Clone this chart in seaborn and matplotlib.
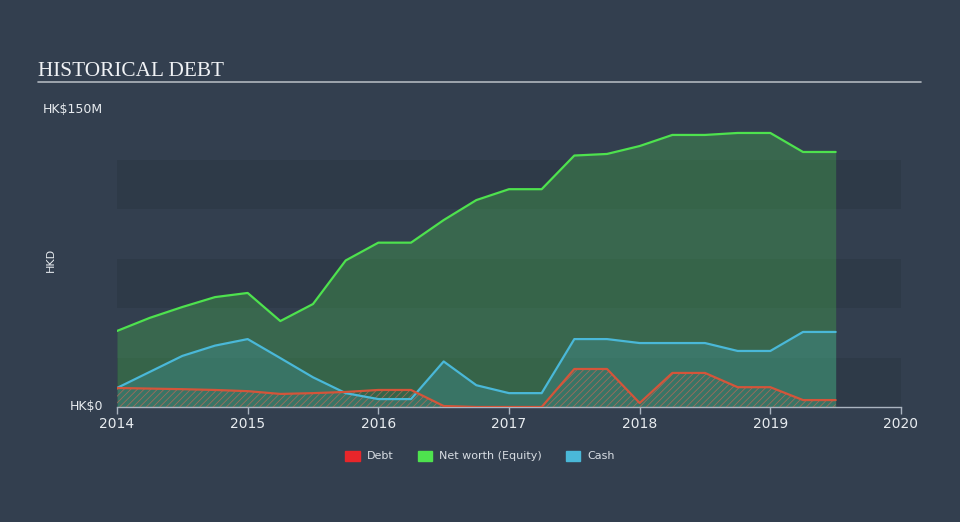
import numpy as np
import pandas as pd
import matplotlib
matplotlib.use("Agg")
import matplotlib.pyplot as plt
import matplotlib.patches as mpatches
import seaborn as sns

# ---- data (HK$ millions), quarterly ----
dates = [2014.0, 2014.25, 2014.5, 2014.75, 2015.0, 2015.25, 2015.5, 2015.75,
         2016.0, 2016.25, 2016.5, 2016.75, 2017.0, 2017.25, 2017.5, 2017.75,
         2018.0, 2018.25, 2018.5, 2018.75, 2019.0, 2019.25, 2019.5]
net_worth = [38.4, 45.0, 50.5, 55.5, 57.6, 43.4, 52.0, 74.0,
             83.0, 83.0, 94.4, 104.5, 110.0, 110.0, 127.0, 127.8,
             131.8, 137.4, 137.4, 138.4, 138.4, 128.8, 128.8]
cash = [9.6, 17.7, 25.8, 31.0, 34.3, 24.7, 15.0, 7.0,
        4.0, 4.0, 23.0, 11.0, 7.0, 7.0, 34.3, 34.3,
        32.3, 32.3, 32.3, 28.3, 28.3, 37.9, 37.9]
debt = [9.6, 9.3, 9.0, 8.6, 8.0, 6.6, 7.0, 7.6,
        8.6, 8.6, 0.5, 0.0, 0.0, 0.0, 19.2, 19.2,
        2.0, 17.2, 17.2, 10.0, 10.0, 3.5, 3.5]
x_ticks = [2014, 2015, 2016, 2017, 2018, 2019, 2020]
y_ticks = [0, 150]
y_tick_labels = ["HK$0", "HK$150M"]
legend_labels = ["Debt", "Net worth (Equity)", "Cash"]

BG = "#333f4f"
BAND = "#2e3a48"
C_DEBT_LEG = "#e8262a"
C_NW = "#4ee24e"
C_CASH = "#4ab8d8"
C_DEBT_LINE = "#d4553a"

sns.set_theme(style="dark")
plt.rcParams["font.family"] = ["DejaVu Sans"]
plt.rcParams["hatch.linewidth"] = 0.6

fig = plt.figure(figsize=(9.6, 5.22), dpi=100, facecolor=BG)
ax = fig.add_axes([117/960, 1-407/522, (901-117)/960, (407-110)/522])
ax.set_facecolor(BG)

# background bands
for lo in [0, 50, 100]:
    ax.axhspan(lo, lo + 25, color=BAND, zorder=0, lw=0)

df = pd.DataFrame({"date": dates, "Net worth": net_worth, "Cash": cash, "Debt": debt})

ax.fill_between(df["date"], 0, df["Net worth"], color=C_NW, alpha=0.25, lw=0, zorder=1)
ax.fill_between(df["date"], 0, df["Cash"], color=C_CASH, alpha=0.2, lw=0, zorder=2)
ax.fill_between(df["date"], 0, df["Debt"], facecolor="none", edgecolor="#c86a58",
                hatch="/////", lw=0, zorder=3, alpha=0.7)

sns.lineplot(data=df, x="date", y="Net worth", ax=ax, color=C_NW, lw=1.6, zorder=5)
sns.lineplot(data=df, x="date", y="Cash", ax=ax, color=C_CASH, lw=1.6, zorder=5)
sns.lineplot(data=df, x="date", y="Debt", ax=ax, color=C_DEBT_LINE, lw=1.6, zorder=5)

ax.set_xlim(2014, 2020)
ax.set_ylim(0, 150)
ax.set_xticks(x_ticks)
ax.set_xticklabels([str(t) for t in x_ticks], color="#e8ecf0", fontsize=10)
ax.set_yticks(y_ticks)
ax.set_yticklabels(y_tick_labels, color="#e8ecf0", fontsize=9)
ax.tick_params(axis="x", length=5, width=1, color="#aab4c0", pad=2, bottom=True)
ax.tick_params(axis="y", length=0, pad=10)
for lab in ax.get_yticklabels():
    lab.set_verticalalignment("center")
ax.set_xlabel("")
ax.set_ylabel("")
for s in ["top", "right", "left"]:
    ax.spines[s].set_visible(False)
ax.spines["bottom"].set_color("#aab4c0")
ax.spines["bottom"].set_linewidth(1)
ax.grid(False)

fig.text(51/960, 1-260/522, "HKD", rotation=90, color="#e8ecf0", fontsize=8,
         ha="center", va="center")

# title and rule
fig.text(38/960, 1-76/522, "HISTORICAL DEBT", family="Liberation Serif",
         fontsize=15.3, color="#f0f2f5", va="baseline", ha="left")
fig.add_artist(plt.Line2D([38/960, 921/960], [1-82/522, 1-82/522],
                          color="#b0b6be", lw=1.2, transform=fig.transFigure))

handles = [mpatches.Patch(color=c, label=l) for c, l in
           zip([C_DEBT_LEG, C_NW, C_CASH], legend_labels)]
fig.legend(handles=handles, loc="center", bbox_to_anchor=(480/960, 1-456/522),
           ncol=3, frameon=False, fontsize=8, labelcolor="#d8dde3",
           handlelength=1.3, handleheight=1.0, columnspacing=2.2, handletextpad=0.6)

fig.savefig("out.png", dpi=100, facecolor=BG)
